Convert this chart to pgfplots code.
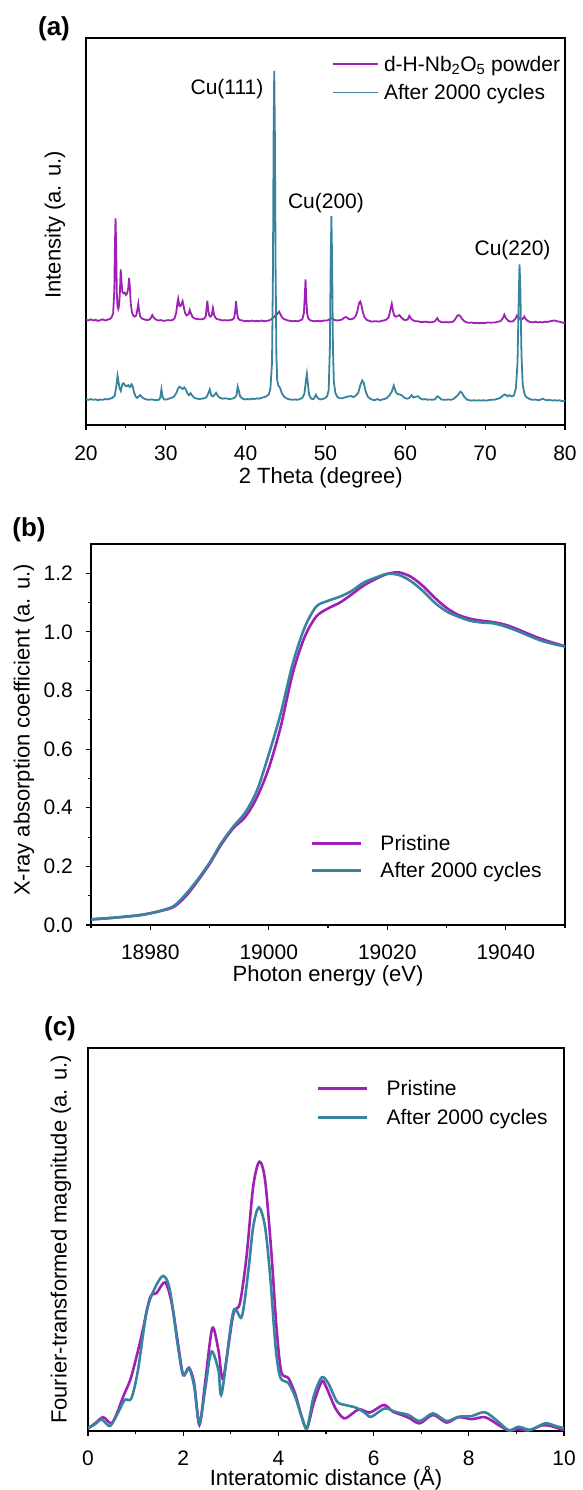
\documentclass[border=0pt]{standalone}
\usepackage{fontspec}
\setmainfont{Liberation Sans}
\usepackage{pgfplots}
\pgfplotsset{compat=1.18}
\definecolor{cpur}{RGB}{158,32,182}
\definecolor{cteal}{RGB}{56,132,158}
\pgfplotsset{
 base/.style={
  scale only axis, anchor=south west,
  axis line style={line width=1.2pt},
  every tick/.style={black, line width=1.1pt},
  tick align=outside,
  major tick length=5pt, minor tick length=3pt,
  xtick pos=bottom, ytick pos=left,
  /pgf/number format/assume math mode=true,
  /pgf/number format/1000 sep={},
  tick label style={font=\fontsize{21}{25}\selectfont},
  label style={font=\fontsize{22}{26}\selectfont},
  xticklabel style={inner sep=0pt, anchor=center, text height=15pt, text depth=0pt},
  legend style={draw=none, fill=none, inner sep=0pt, outer sep=0pt, anchor=north west,
    font=\fontsize{21}{25}\selectfont, cells={anchor=west},
    nodes={inner sep=0pt, text height=15pt, text depth=0pt}},
  legend cell align=left,
 }
}
\begin{document}
\begin{tikzpicture}
\path[use as bounding box] (0,0) rectangle (583pt,1490pt);
% ---------------- (a) ----------------
\begin{axis}[base, at={(86pt,1065pt)}, width=479pt, height=387pt,
  xmin=20, xmax=80, ymin=0, ymax=100,
  xtick={20,30,...,80}, minor x tick num=1, ytick=\empty,
  xticklabel style={yshift=-23pt},
  xlabel={2 Theta (degree)}, ylabel={Intensity (a. u.)},
  xlabel style={at={(axis description cs:0.49,-0.1512)}, anchor=base, inner sep=0pt},
  ylabel style={at={(axis description cs:-0.0647,0.517)}, anchor=center},
  legend style={at={(axis description cs:0.5136,0.952)}, column sep=5.7pt, row sep=13.3pt},
  legend image code/.code={\draw[#1, line width=1.3pt] (0pt,0pt) -- (45pt,0pt);},
]
\addplot[cpur, line width=1.8pt] coordinates {
(20.0,27.2)(20.3,27.0)(20.6,27.3)(20.9,27.0)(21.2,27.2)(21.5,26.9)(21.8,27.1)(22.1,27.3)(22.4,27.0)(22.7,27.2)
(23.0,27.4)(23.2,27.8)(23.4,28.8)(23.55,35)(23.62,46)(23.7,53.4)(23.78,46)(23.86,34)(23.95,30.5)(24.05,30)
(24.15,31)(24.25,34.5)(24.35,40.2)(24.45,37)(24.55,34.5)(24.7,34)(24.85,34.2)(25.0,33.6)(25.15,34)(25.3,35.5)
(25.4,38)(25.5,35.5)(25.6,31.5)(25.75,29.2)(25.9,28.3)(26.1,28)(26.3,28.3)(26.45,30)(26.55,31.3)(26.65,29.5)
(26.8,28)(27.0,27.5)(27.3,27.3)(27.6,27.1)(27.9,27.2)(28.1,27.6)(28.3,28.4)(28.5,27.7)(28.8,27.2)(29.1,27.0)
(29.4,27.1)(29.7,26.9)(30.0,27.0)(30.3,27.1)(30.6,27.0)(30.9,27.2)(31.1,27.6)(31.3,29)(31.45,31.5)(31.55,32.6)
(31.7,30.8)(31.85,30.7)(32.0,31.5)(32.1,32)(32.25,30.5)(32.4,29)(32.6,28.3)(32.85,28.6)(33.0,29.7)(33.15,28.8)
(33.35,27.9)(33.6,27.5)(33.9,27.4)(34.2,27.3)(34.5,27.3)(34.8,27.5)(35.0,28)(35.1,30)(35.2,32.1)(35.32,29.5)
(35.45,28.2)(35.6,28.0)(35.75,28.4)(35.9,30.2)(36.05,28.4)(36.25,27.6)(36.5,27.3)(36.8,27.2)(37.1,27.0)(37.4,27.1)
(37.7,27.0)(38.0,27.1)(38.3,27.2)(38.55,27.6)(38.7,29.5)(38.8,32)(38.92,29)(39.05,27.6)(39.3,27.1)(39.6,27.0)
(39.9,26.8)(40.2,26.9)(40.5,26.8)(40.8,27.0)(41.1,26.8)(41.4,26.9)(41.7,26.8)(42.0,27.0)(42.3,26.8)(42.6,26.9)
(42.9,27.0)(43.2,27.3)(43.5,27.8)(43.7,28.3)(43.9,28.5)(44.05,29)(44.2,29.3)(44.35,28.6)(44.5,28.0)(44.7,27.5)
(45.0,27.2)(45.3,27.0)(45.6,26.9)(45.9,26.8)(46.2,26.9)(46.5,26.8)(46.8,27.0)(47.1,27.3)(47.3,29)(47.42,34)
(47.5,37.6)(47.58,33)(47.7,28.8)(47.85,27.5)(48.1,27.0)(48.4,26.9)(48.7,26.8)(49.0,26.9)(49.3,26.8)(49.6,26.9)
(49.9,27.0)(50.2,27.0)(50.5,27.3)(50.7,27.6)(50.9,27.4)(51.2,27.1)(51.5,27.0)(51.8,27.1)(52.1,27.3)(52.4,27.8)
(52.6,27.9)(52.9,27.4)(53.2,27.3)(53.5,27.5)(53.8,28.2)(54.0,29.5)(54.2,31.5)(54.35,31.9)(54.5,31)(54.7,29)
(54.9,27.8)(55.2,27.1)(55.5,26.9)(55.8,26.7)(56.1,26.8)(56.4,26.8)(56.7,26.7)(57.0,26.9)(57.3,27.0)(57.6,27.2)
(57.9,27.8)(58.1,29.5)(58.3,31.3)(58.45,29.5)(58.6,28.3)(58.8,28)(59.0,28.1)(59.25,28.4)(59.5,27.8)(59.8,27.2)
(60.1,27.1)(60.3,27.3)(60.5,28.2)(60.7,27.5)(61.0,27.0)(61.3,26.8)(61.6,26.8)(61.9,26.6)(62.2,26.6)(62.5,26.7)
(62.8,26.6)(63.1,26.5)(63.4,26.6)(63.7,26.8)(64.0,27.6)(64.2,26.9)(64.5,26.6)(64.8,26.5)(65.1,26.6)(65.4,26.5)
(65.7,26.6)(66.0,26.7)(66.3,27.5)(66.5,28.2)(66.7,28.4)(66.9,28.1)(67.1,27.4)(67.4,26.8)(67.7,26.5)(68.0,26.4)
(68.3,26.5)(68.6,26.3)(68.9,26.4)(69.2,26.3)(69.5,26.4)(69.8,26.3)(70.1,26.4)(70.4,26.5)(70.7,26.4)(71.0,26.5)
(71.3,26.5)(71.6,26.7)(71.9,26.8)(72.2,27.5)(72.4,28.5)(72.6,27.6)(72.9,26.9)(73.2,26.7)(73.5,26.8)(73.8,27.5)
(74.0,28.3)(74.2,27.8)(74.45,27.2)(74.7,27.4)(74.9,28)(75.1,27.3)(75.4,26.8)(75.7,26.6)(76.0,26.5)(76.3,26.7)
(76.6,26.5)(76.9,26.6)(77.2,26.5)(77.5,26.7)(77.8,26.6)(78.1,26.8)(78.4,26.9)(78.7,27.0)(79.0,26.8)(79.3,26.7)
(79.6,26.5)(80.0,26.3)};
\addlegendentry{d-H-Nb\textsubscript{2}O\textsubscript{5} powder}
\addplot[cteal, line width=1.8pt] coordinates {
(20.0,6.6)(20.3,6.5)(20.6,6.7)(20.9,6.5)(21.2,6.6)(21.5,6.4)(21.8,6.6)(22.1,6.5)(22.4,6.7)(22.7,6.6)
(23.0,6.8)(23.3,7.0)(23.6,7.6)(23.8,10)(23.95,12.7)(24.05,11.5)(24.2,9.5)(24.35,8.8)(24.55,10.5)(24.7,10.8)
(24.9,10.2)(25.1,10)(25.3,10.3)(25.5,9.8)(25.7,10.5)(25.85,10)(26.0,8.6)(26.2,7.4)(26.4,7.0)(26.6,7.4)
(26.8,7.7)(27.0,7.2)(27.3,6.8)(27.6,6.6)(27.9,6.5)(28.2,6.6)(28.5,6.5)(28.8,6.4)(29.1,6.5)(29.3,7.0)
(29.45,9.2)(29.6,7.2)(29.8,6.6)(30.1,6.6)(30.4,6.8)(30.7,7.0)(31.0,7.3)(31.3,8.2)(31.5,9.3)(31.7,9.9)
(31.9,9.6)(32.1,9.3)(32.3,9.7)(32.5,9.2)(32.7,8.2)(32.9,7.7)(33.1,8.2)(33.3,7.6)(33.6,7.0)(33.9,6.8)
(34.2,6.7)(34.5,6.8)(34.8,6.9)(35.1,7.2)(35.35,8.3)(35.5,9.2)(35.7,7.6)(35.9,7.4)(36.1,7.8)(36.3,8.3)
(36.5,7.6)(36.8,7.0)(37.1,6.8)(37.4,6.9)(37.7,6.8)(38.0,6.7)(38.3,6.8)(38.6,7.0)(38.85,7.6)(39.0,9.9)
(39.15,8.8)(39.3,7.4)(39.6,6.8)(39.9,6.6)(40.2,6.7)(40.5,6.6)(40.8,6.8)(41.1,6.7)(41.4,6.9)(41.7,6.8)
(42.0,7.0)(42.3,7.2)(42.6,7.4)(42.9,7.9)(43.1,9.5)(43.3,16)(43.42,40)(43.5,75)(43.58,91.5)(43.66,75)
(43.75,40)(43.85,18)(43.95,11.5)(44.1,10.2)(44.3,9.6)(44.5,8.4)(44.7,7.6)(45.0,7.0)(45.3,6.7)(45.6,6.6)
(45.9,6.5)(46.2,6.6)(46.5,6.5)(46.8,6.7)(47.1,7.0)(47.35,8.0)(47.55,11.5)(47.67,13.2)(47.8,10.5)(47.95,7.8)
(48.2,6.8)(48.5,6.7)(48.8,7.8)(49.0,7.0)(49.3,6.6)(49.6,6.7)(49.9,6.9)(50.2,7.4)(50.4,9)(50.55,20)
(50.65,42)(50.74,54)(50.83,42)(50.93,20)(51.05,11)(51.25,8.2)(51.5,7.2)(51.8,6.9)(52.1,6.9)(52.4,7.1)
(52.7,7.3)(53.0,7.4)(53.2,7.5)(53.5,7.2)(53.8,7.6)(54.1,8.3)(54.35,10.2)(54.6,11.5)(54.8,10.8)(55.0,8.9)
(55.3,7.3)(55.6,6.8)(55.9,6.5)(56.2,6.4)(56.5,6.7)(56.8,6.4)(57.1,6.6)(57.4,6.7)(57.7,7.0)(58.0,7.6)
(58.3,8.6)(58.55,10.2)(58.8,8.6)(59.0,8.0)(59.3,7.9)(59.6,7.6)(59.9,7.0)(60.2,6.8)(60.5,7.0)(60.8,7.7)
(61.0,7.1)(61.3,7.3)(61.6,7.4)(61.9,6.8)(62.2,6.6)(62.5,6.7)(62.8,6.5)(63.1,6.6)(63.4,6.5)(63.7,6.6)
(64.0,7.4)(64.2,7.2)(64.5,6.6)(64.8,6.5)(65.1,6.5)(65.4,6.6)(65.7,6.5)(66.0,6.7)(66.3,7.2)(66.6,7.8)
(66.9,8.6)(67.1,8.3)(67.4,7.2)(67.7,6.6)(68.0,6.4)(68.3,6.3)(68.6,6.4)(68.9,6.3)(69.2,6.4)(69.5,6.3)
(69.8,6.4)(70.1,6.3)(70.4,6.4)(70.7,6.5)(71.0,6.5)(71.3,6.6)(71.6,6.8)(71.9,7.0)(72.2,7.6)(72.5,7.9)
(72.8,7.4)(73.0,7.7)(73.3,7.4)(73.6,7.6)(73.85,9.5)(74.05,16)(74.2,32)(74.3,41.5)(74.4,36)(74.55,18)
(74.7,10.5)(74.9,8.2)(75.1,7.3)(75.4,6.9)(75.7,6.6)(76.0,6.5)(76.3,6.6)(76.6,6.4)(76.9,6.5)(77.2,6.8)
(77.5,6.5)(77.8,6.4)(78.1,6.5)(78.4,6.3)(78.7,6.4)(79.0,6.3)(79.3,6.4)(79.6,6.2)(80.0,6.2)};
\addlegendentry{After 2000 cycles}
\node[font=\fontsize{21}{25}\selectfont] at (axis cs:37.66,86.7) {Cu(111)};
\node[font=\fontsize{21}{25}\selectfont] at (axis cs:50.06,57.4) {Cu(200)};
\node[font=\fontsize{21}{25}\selectfont] at (axis cs:73.43,45.2) {Cu(220)};
\end{axis}
% ---------------- (b) ----------------
\begin{axis}[base, at={(91pt,565pt)}, width=474pt, height=381pt,
  xmin=18970, xmax=19050, ymin=0, ymax=1.3,
  scaled x ticks=false, scaled y ticks=false,
  xtick={18980,19000,19020,19040}, minor xtick={18970,18990,19010,19030,19050},
  ytick={0,0.2,...,1.2}, minor ytick={0.1,0.3,...,1.15},
  xticklabel style={yshift=-21.7pt, /pgf/number format/.cd, fixed, precision=0, 1000 sep={}},
  yticklabel style={/pgf/number format/.cd, fixed, fixed zerofill, precision=1, /tikz/.cd, inner sep=0pt, anchor=east, xshift=-13pt},
  xlabel={Photon energy (eV)}, ylabel={X-ray absorption coefficient (a. u.)},
  xlabel style={at={(axis description cs:0.5,-0.147)}, anchor=base, inner sep=0pt},
  ylabel style={at={(axis description cs:-0.1414,0.512)}, anchor=center},
  legend style={at={(axis description cs:0.462,0.2336)}, column sep=18.3pt, row sep=11.7pt},
  legend image code/.code={\draw[#1, line width=3.2pt] (0pt,0pt) -- (49pt,0pt);},
]
\addplot[cpur, line width=2.6pt, smooth] coordinates {
(18970,0.019)(18974,0.025)(18978,0.033)(18980,0.040)(18982,0.049)(18984,0.062)(18986,0.098)(18988,0.150)
(18990,0.208)(18992,0.275)(18994,0.330)(18996,0.368)(18998,0.435)(19000,0.535)(19002,0.675)(19004,0.855)
(19006,0.980)(19008,1.052)(19010,1.080)(19012,1.100)(19014,1.128)(19016,1.158)(19018,1.180)(19020,1.198)
(19022,1.203)(19024,1.188)(19026,1.157)(19028,1.117)(19030,1.082)(19032,1.058)(19034,1.045)(19036,1.038)
(19038,1.033)(19040,1.024)(19042,1.009)(19044,0.992)(19046,0.976)(19048,0.963)(19050,0.951)};
\addlegendentry{Pristine}
\addplot[cteal, line width=2.6pt, smooth] coordinates {
(18970,0.019)(18974,0.025)(18978,0.033)(18980,0.040)(18982,0.050)(18984,0.065)(18986,0.105)(18988,0.155)
(18990,0.212)(18992,0.280)(18994,0.335)(18996,0.383)(18998,0.458)(19000,0.582)(19002,0.720)(19004,0.888)
(19006,1.012)(19008,1.086)(19010,1.106)(19012,1.120)(19014,1.140)(19016,1.168)(19018,1.185)(19020,1.198)
(19022,1.194)(19024,1.173)(19026,1.140)(19028,1.100)(19030,1.070)(19032,1.052)(19034,1.038)(19036,1.032)
(19038,1.029)(19040,1.018)(19042,1.003)(19044,0.986)(19046,0.970)(19048,0.959)(19050,0.950)};
\addlegendentry{After 2000 cycles}
\end{axis}
% ---------------- (c) ----------------
\begin{axis}[base, at={(88pt,59pt)}, width=476pt, height=383pt,
  xmin=0, xmax=10, ymin=0, ymax=1,
  xtick={0,2,...,10}, minor x tick num=1, ytick=\empty,
  xticklabel style={yshift=-21.5pt},
  xlabel={Interatomic distance (Å)}, ylabel={Fourier-transformed magnitude (a. u.)},
  xlabel style={at={(axis description cs:0.5,-0.141)}, anchor=base, inner sep=0pt},
  ylabel style={at={(axis description cs:-0.0567,0.5)}, anchor=center},
  legend style={at={(axis description cs:0.479,0.9146)}, column sep=17.9pt, row sep=14pt},
  legend image code/.code={\draw[#1, line width=3.2pt] (0pt,0pt) -- (49.5pt,0pt);},
]
\addplot[cpur, line width=2.6pt, smooth] coordinates {
(0.00,0.007)(0.15,0.02)(0.32,0.036)(0.49,0.020)(0.62,0.05)(0.74,0.09)(0.91,0.142)(1.12,0.246)(1.30,0.347)
(1.44,0.360)(1.62,0.388)(1.76,0.333)(1.89,0.229)(2.00,0.146)(2.12,0.165)(2.23,0.125)(2.34,0.016)(2.46,0.125)
(2.61,0.268)(2.74,0.211)(2.84,0.138)(3.05,0.303)(3.19,0.333)(3.33,0.455)(3.47,0.638)(3.60,0.703)(3.72,0.655)
(3.85,0.470)(3.96,0.270)(4.06,0.155)(4.21,0.138)(4.35,0.098)(4.49,0.037)(4.60,0.007)(4.74,0.072)(4.91,0.129)
(5.00,0.116)(5.20,0.059)(5.38,0.033)(5.56,0.046)(5.70,0.057)(5.91,0.048)(6.05,0.057)(6.23,0.068)(6.41,0.05)
(6.59,0.042)(6.76,0.033)(6.97,0.02)(7.25,0.042)(7.53,0.022)(7.78,0.036)(8.06,0.031)(8.34,0.036)(8.62,0.016)
(8.84,0.001)(9.05,0.005)(9.25,0.001)(9.55,0.015)(9.75,0.012)(10.0,0.002)};
\addlegendentry{Pristine}
\addplot[cteal, line width=2.6pt, smooth] coordinates {
(0.00,0.007)(0.15,0.018)(0.29,0.030)(0.46,0.013)(0.62,0.045)(0.77,0.081)(0.91,0.085)(1.05,0.159)(1.23,0.311)
(1.40,0.372)(1.58,0.405)(1.72,0.368)(1.89,0.22)(2.00,0.146)(2.12,0.164)(2.23,0.117)(2.34,0.02)(2.46,0.107)
(2.59,0.207)(2.74,0.159)(2.81,0.098)(3.05,0.311)(3.23,0.298)(3.37,0.42)(3.47,0.533)(3.59,0.584)(3.72,0.533)
(3.83,0.40)(3.94,0.22)(4.04,0.14)(4.21,0.125)(4.35,0.09)(4.49,0.037)(4.60,0.007)(4.74,0.09)(4.91,0.14)
(5.05,0.124)(5.23,0.077)(5.40,0.068)(5.63,0.061)(5.81,0.048)(5.95,0.037)(6.23,0.059)(6.45,0.05)(6.73,0.042)
(6.97,0.026)(7.25,0.046)(7.53,0.026)(7.78,0.037)(8.06,0.039)(8.34,0.049)(8.62,0.024)(8.84,0.002)(9.05,0.011)
(9.30,0.003)(9.60,0.02)(9.85,0.012)(10.0,0.007)};
\addlegendentry{After 2000 cycles}
\end{axis}
\node[font=\bfseries\fontsize{26}{30}\selectfont] at (54pt,1461pt) {(a)};
\node[font=\bfseries\fontsize{26}{30}\selectfont] at (29pt,960pt) {(b)};
\node[font=\bfseries\fontsize{26}{30}\selectfont] at (60pt,461pt) {(c)};
\end{tikzpicture}
\end{document}
